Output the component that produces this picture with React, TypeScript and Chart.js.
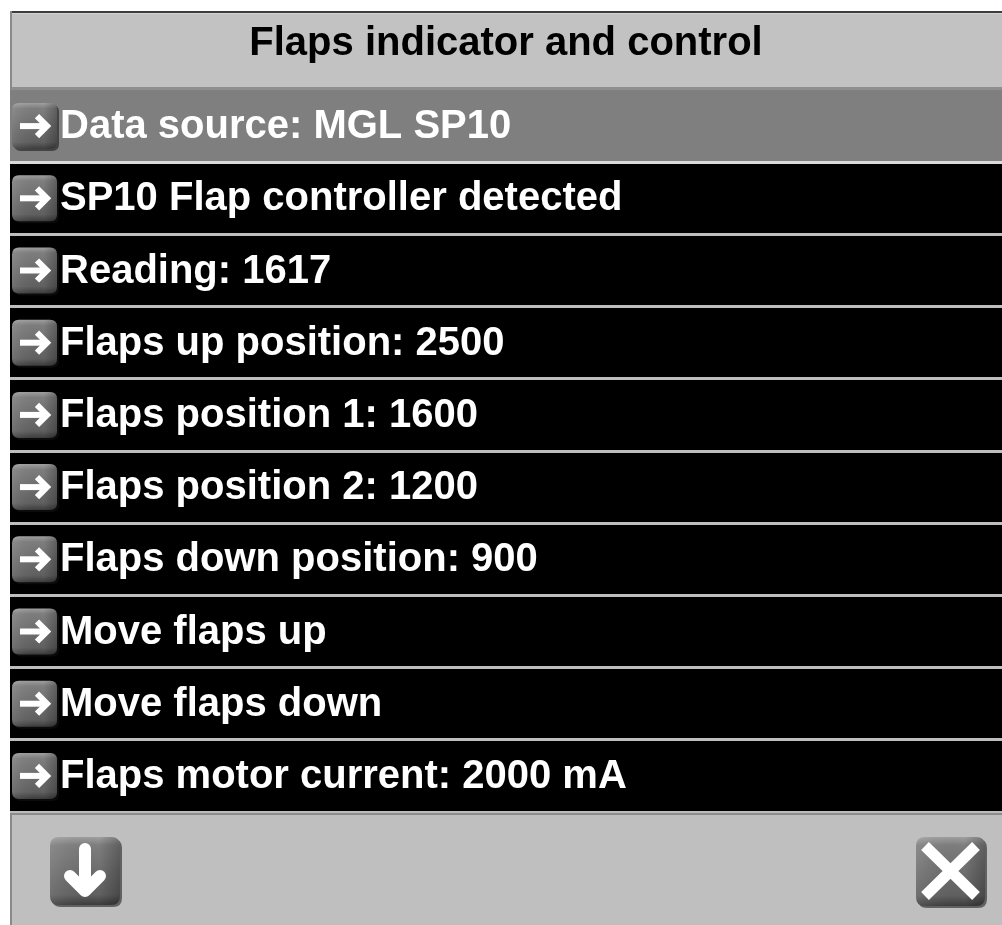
import { useEffect, useRef } from "react";
import { Chart, registerables } from "chart.js";

Chart.register(...registerables);

const screenTitle = "Flaps indicator and control";

const menuItems = [
  "Data source: MGL SP10",
  "SP10 Flap controller detected",
  "Reading: 1617",
  "Flaps up position: 2500",
  "Flaps position 1: 1600",
  "Flaps position 2: 1200",
  "Flaps down position: 900",
  "Move flaps up",
  "Move flaps down",
  "Flaps motor current: 2000 mA",
];

// each menu row spans the whole width of the list
const rowSpan = [1, 1, 1, 1, 1, 1, 1, 1, 1, 1];

const selectedRow = 0;

const FONT = '"Liberation Sans", Arial, Helvetica, sans-serif';

function rr(ctx: CanvasRenderingContext2D, x: number, y: number, w: number, h: number, r: number) {
  ctx.beginPath();
  ctx.moveTo(x + r, y);
  ctx.lineTo(x + w - r, y);
  ctx.quadraticCurveTo(x + w, y, x + w, y + r);
  ctx.lineTo(x + w, y + h - r);
  ctx.quadraticCurveTo(x + w, y + h, x + w - r, y + h);
  ctx.lineTo(x + r, y + h);
  ctx.quadraticCurveTo(x, y + h, x, y + h - r);
  ctx.lineTo(x, y + r);
  ctx.quadraticCurveTo(x, y, x + r, y);
  ctx.closePath();
}

function drawKey(ctx: CanvasRenderingContext2D, x: number, y: number, w: number, h: number, r: number) {
  ctx.save();
  ctx.fillStyle = "rgba(20,20,20,0.55)";
  rr(ctx, x + 2, y + 2, w, h, r);
  ctx.fill();
  const g = ctx.createLinearGradient(x, y, x, y + h);
  g.addColorStop(0, "#a0a0a0");
  g.addColorStop(0.12, "#7e7e7e");
  g.addColorStop(0.85, "#606060");
  g.addColorStop(1, "#3c3c3c");
  ctx.fillStyle = g;
  rr(ctx, x, y, w, h, r);
  ctx.fill();
  const g2 = ctx.createLinearGradient(x, y, x + w, y);
  g2.addColorStop(0, "rgba(255,255,255,0.10)");
  g2.addColorStop(0.7, "rgba(0,0,0,0)");
  g2.addColorStop(1, "rgba(0,0,0,0.25)");
  ctx.fillStyle = g2;
  rr(ctx, x, y, w, h, r);
  ctx.fill();
  ctx.restore();
}

const framePlugin = {
  id: "frame",
  beforeDraw(chart: any) {
    const { ctx, width, height, chartArea } = chart;
    const L = chartArea.left;
    ctx.save();
    ctx.fillStyle = "#ffffff";
    ctx.fillRect(0, 0, width, height);
    ctx.fillStyle = "#3c3c3c";
    ctx.fillRect(L, 11, width - L, 2);
    ctx.fillStyle = "#c2c2c2";
    ctx.fillRect(L, 13, width - L, chartArea.top - 13);
    ctx.fillStyle = "#d2d2d2";
    ctx.fillRect(L, 13, width - L, 1);
    ctx.fillStyle = "#8e8e8e";
    ctx.fillRect(L, chartArea.top - 3, width - L, 3);
    ctx.fillStyle = "#bfbfbf";
    ctx.fillRect(L, chartArea.bottom, width - L, height - chartArea.bottom);
    ctx.fillStyle = "#8a8a8a";
    ctx.fillRect(L, 11, 2, height - 11);
    ctx.restore();
  },
  afterDraw(chart: any) {
    const { ctx, width, chartArea } = chart;
    const L = chartArea.left;
    const yScale = chart.scales.y;
    ctx.save();
    // footer top edge
    ctx.fillStyle = "#8c8c8c";
    ctx.fillRect(L, chartArea.bottom + 1, width - L, 2);
    // row arrow keys
    menuItems.forEach((_, i) => {
      const cy = yScale.getPixelForTick(i);
      const kx = L + 2;
      drawKey(ctx, kx, cy - 23, 45, 46, 7);
      ctx.strokeStyle = "#ffffff";
      ctx.lineWidth = 6;
      ctx.lineCap = "butt";
      ctx.lineJoin = "miter";
      ctx.beginPath();
      ctx.moveTo(kx + 8, cy);
      ctx.lineTo(kx + 34, cy);
      ctx.stroke();
      ctx.beginPath();
      ctx.moveTo(kx + 25, cy - 10);
      ctx.lineTo(kx + 35, cy);
      ctx.lineTo(kx + 25, cy + 10);
      ctx.stroke();
    });
    // footer buttons
    const by = chartArea.bottom + 25;
    const bx = L + 40;
    drawKey(ctx, bx, by, 70, 68, 9);
    ctx.strokeStyle = "#ffffff";
    ctx.lineWidth = 12;
    ctx.lineCap = "round";
    ctx.lineJoin = "round";
    ctx.beginPath();
    ctx.moveTo(bx + 35, by + 12);
    ctx.lineTo(bx + 35, by + 53);
    ctx.stroke();
    ctx.beginPath();
    ctx.moveTo(bx + 20, by + 39);
    ctx.lineTo(bx + 35, by + 54);
    ctx.lineTo(bx + 50, by + 39);
    ctx.stroke();

    const xx = width - 86;
    drawKey(ctx, xx, by, 69, 69, 9);
    ctx.lineWidth = 11;
    ctx.lineCap = "butt";
    ctx.beginPath();
    ctx.moveTo(xx + 9, by + 9);
    ctx.lineTo(xx + 60, by + 59);
    ctx.moveTo(xx + 60, by + 9);
    ctx.lineTo(xx + 9, by + 59);
    ctx.stroke();
    ctx.restore();
  },
};

export default function App() {
  const canvasRef = useRef<HTMLCanvasElement | null>(null);

  useEffect(() => {
    const canvas = canvasRef.current;
    if (!canvas) return;
    const chart = new Chart(canvas, {
      type: "bar",
      data: {
        labels: menuItems,
        datasets: [
          {
            data: rowSpan,
            backgroundColor: menuItems.map((_, i) => (i === selectedRow ? "#7f7f7f" : "#000000")),
            borderWidth: 0,
            barPercentage: 1,
            categoryPercentage: 1,
          },
        ],
      },
      options: {
        indexAxis: "y",
        responsive: false,
        animation: false,
        devicePixelRatio: 1,
        layout: { padding: { left: 10, right: 0, top: 14, bottom: 113 } },
        plugins: {
          legend: { display: false },
          tooltip: { enabled: false },
          title: {
            display: true,
            text: screenTitle,
            color: "#000000",
            font: { family: FONT, size: 40, weight: "bold", lineHeight: 1.2 },
            padding: { top: 6, bottom: 22 },
          },
        },
        scales: {
          x: { display: false, min: 0, max: 1 },
          y: {
            position: "left",
            afterFit: (s: any) => {
              s.width = 0;
            },
            border: { display: false },
            grid: {
              offset: true,
              drawTicks: false,
              z: 1,
              lineWidth: 3,
              color: (c: any) =>
                c.index === 0 ? "rgba(0,0,0,0)" : c.index === 1 ? "#dadada" : "#bdbdbd",
            },
            ticks: {
              mirror: true,
              padding: 50,
              labelOffset: 1,
              z: 1,
              color: "#ffffff",
              autoSkip: false,
              font: { family: FONT, size: 40, weight: "bold" },
            },
          },
        },
      },
      plugins: [framePlugin],
    } as any);
    return () => chart.destroy();
  }, []);

  return (
    <div style={{ position: "fixed", left: 0, top: 0, width: 1002, height: 925, background: "#fff" }}>
      <canvas ref={canvasRef} width={1002} height={925} style={{ display: "block" }} />
    </div>
  );
}
